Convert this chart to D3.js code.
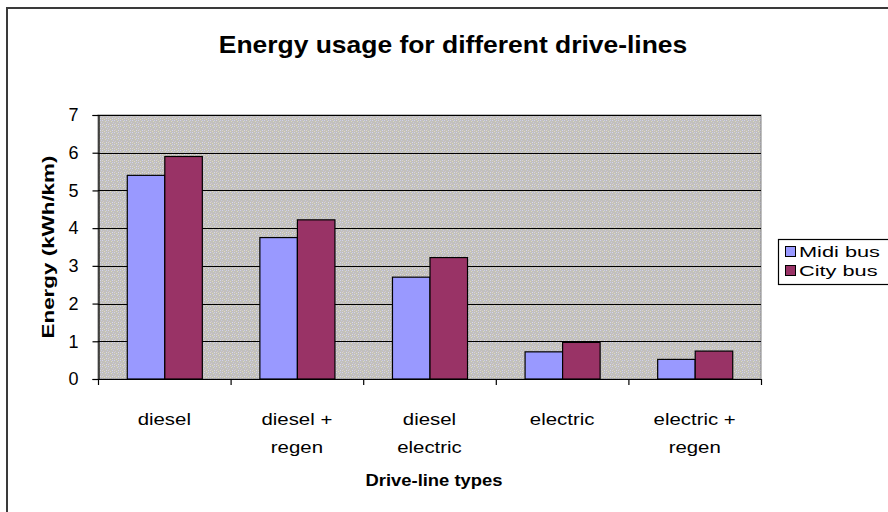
<!DOCTYPE html>
<html><head><meta charset="utf-8">
<script src="https://cdn.jsdelivr.net/npm/d3@7"></script>
<style>html,body{margin:0;padding:0;background:#fff;}svg{display:block;font-family:"Liberation Sans",Arial,sans-serif;}</style>
</head><body>
<svg id="chart" width="888" height="512"></svg>
<script>
const categories = [["diesel"], ["diesel +", "regen"], ["diesel", "electric"], ["electric"], ["electric +", "regen"]];
const seriesNames = ["Midi bus", "City bus"];
const midiBus = [5.4, 3.75, 2.7, 0.72, 0.52];
const cityBus = [5.9, 4.22, 3.22, 0.97, 0.74];
const yTicks = [0, 1, 2, 3, 4, 5, 6, 7];
const colors = ["#9999ff", "#993366"];
const title = "Energy usage for different drive-lines";
const yTitle = "Energy (kWh/km)";
const xTitle = "Drive-line types";

const svg = d3.select("#chart");
const defs = svg.append("defs");
const pat = defs.append("pattern").attr("id","tex").attr("width",6).attr("height",6).attr("patternUnits","userSpaceOnUse");
pat.append("rect").attr("width",6).attr("height",6).attr("fill","#c2c0bc");
[[0,0,"#d4d4ee"],[3,1,"#dcdcc0"],[1,3,"#cfc6d8"],[4,4,"#d8d8f0"],[2,5,"#e0dcc0"],[5,2,"#c8c8e0"],[0,4,"#dcd4c8"],[4,0,"#ccccea"]].forEach(d=>{
  pat.append("rect").attr("x",d[0]).attr("y",d[1]).attr("width",1).attr("height",1).attr("fill",d[2]);
});

// outer frame
svg.append("rect").attr("x",7).attr("y",8).attr("width",900).attr("height",600)
  .attr("fill","none").attr("stroke","#3a3a3a").attr("stroke-width",2);

const L=98, R=761, T=115, B=379;
const y = d3.scaleLinear().domain([0,7]).range([B,T]);
const x0 = d3.scaleBand().domain(d3.range(categories.length)).range([L,R]).padding(0);
const bw = x0.bandwidth();
const x1 = d3.scaleBand().domain([0,1]).range([bw*0.217, bw*0.783]).padding(0);

// plot background
svg.append("rect").attr("x",L).attr("y",T).attr("width",R-L).attr("height",B-T).attr("fill","url(#tex)").attr("stroke","#808080").attr("stroke-width",1);

// gridlines
svg.append("g").selectAll("line").data(yTicks.filter(d=>d>0)).join("line")
  .attr("x1",L).attr("x2",R).attr("y1",d=>Math.round(y(d))+0.5).attr("y2",d=>Math.round(y(d))+0.5)
  .attr("stroke","#000").attr("stroke-width",1);

// bars
const groups = svg.append("g").selectAll("g").data(categories.map((c,i)=>i)).join("g")
  .attr("transform",i=>`translate(${x0(i)},0)`);
groups.selectAll("rect").data(i=>[midiBus[i], cityBus[i]]).join("rect")
  .attr("x",(d,j)=>x1(j)+0.5).attr("width",x1.bandwidth())
  .attr("y",d=>y(d)).attr("height",d=>B-y(d))
  .attr("fill",(d,j)=>colors[j]).attr("stroke","#000").attr("stroke-width",1.2);

// y axis
const yAxis = d3.axisLeft(y).tickValues(yTicks).tickSize(6).tickPadding(14).tickFormat(d3.format("d"));
const gy = svg.append("g").attr("transform",`translate(${L+0.5},0)`).call(yAxis);
gy.select(".domain").attr("stroke","#000").attr("stroke-width",1.2);
gy.selectAll(".tick line").attr("stroke","#000").attr("stroke-width",1.2);
gy.selectAll(".tick text").attr("font-size",18).attr("fill","#000").attr("font-family","Liberation Sans, Arial, sans-serif");

// x axis
const gx = svg.append("g");
gx.append("line").attr("x1",L).attr("x2",R).attr("y1",B+0.5).attr("y2",B+0.5).attr("stroke","#000").attr("stroke-width",1.2);
const bounds = d3.range(categories.length+1).map(i=> i<categories.length ? x0(i) : x0(i-1)+bw);
gx.selectAll("line.t").data(bounds).join("line").attr("class","t")
  .attr("x1",d=>d+0.5).attr("x2",d=>d+0.5).attr("y1",B).attr("y2",B+6).attr("stroke","#000").attr("stroke-width",1.2);

const catG = svg.append("g").selectAll("g").data(categories).join("g");
catG.each(function(lines,i){
  const g=d3.select(this);
  lines.forEach((t,k)=>{
    g.append("text").attr("transform",`translate(${x0(i)+bw/2},${425+k*28}) scale(1.2,1)`)
      .attr("text-anchor","middle").attr("font-size",17).attr("fill","#000").text(t);
  });
});

// titles
svg.append("text").attr("transform","translate(453,53) scale(1.15,1)").attr("text-anchor","middle")
  .attr("font-size",23).attr("font-weight","bold").attr("fill","#000").text(title);
svg.append("text").attr("transform","translate(434,486) scale(1.15,1)").attr("text-anchor","middle")
  .attr("font-size",16).attr("font-weight","bold").attr("fill","#000").text(xTitle);
svg.append("text").attr("transform","translate(54,247) rotate(-90) scale(1.4,1)").attr("text-anchor","middle")
  .attr("font-size",16).attr("font-weight","bold").attr("fill","#000").text(yTitle);

// legend
const lg = svg.append("g");
lg.append("rect").attr("x",778.5).attr("y",239.5).attr("width",140).attr("height",45).attr("fill","#fff").attr("stroke","#000").attr("stroke-width",1.2);
seriesNames.forEach((n,i)=>{
  const cy = 252 + i*19;
  lg.append("rect").attr("x",785.5).attr("y",cy-5.5).attr("width",10).attr("height",10).attr("fill",colors[i]).attr("stroke","#000");
  lg.append("text").attr("transform",`translate(799,${cy+5}) scale(1.45,1)`).attr("font-size",15).attr("fill","#000").text(n);
});
</script>
</body></html>
